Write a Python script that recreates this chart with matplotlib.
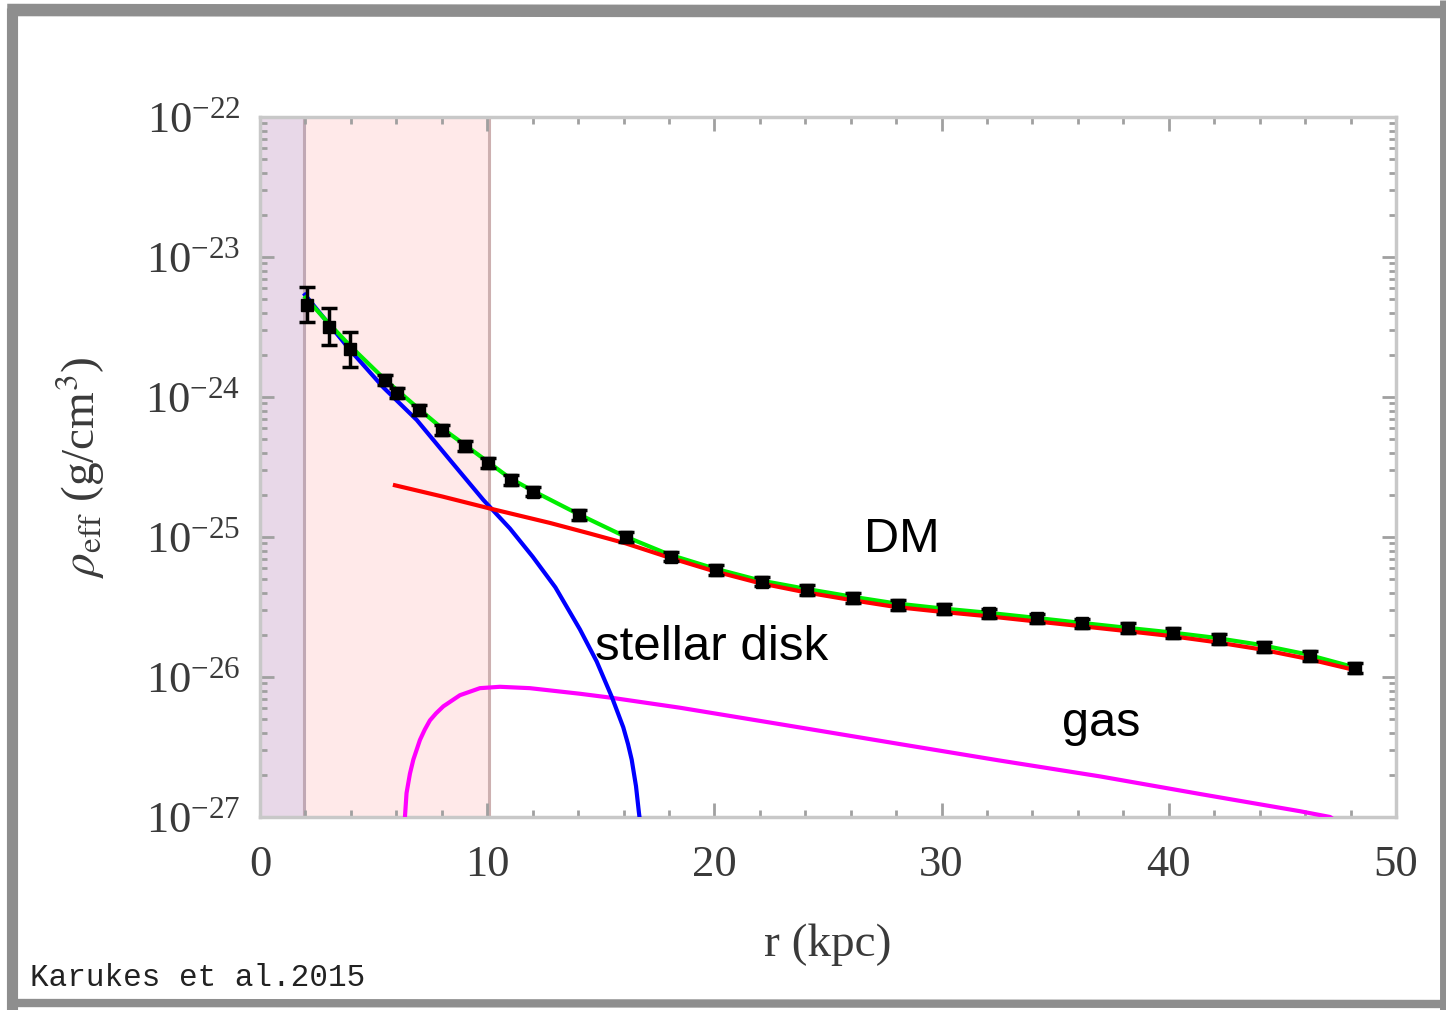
import matplotlib
matplotlib.use('Agg')
import matplotlib.pyplot as plt
from matplotlib.lines import Line2D
from matplotlib.ticker import LogLocator, MultipleLocator, NullFormatter, LogFormatterMathtext

plt.rcParams['font.family'] = ['Liberation Serif', 'DejaVu Serif']
plt.rcParams['mathtext.fontset'] = 'stix'

# Dados (r em kpc, densidade em g/cm^3)
r_data = [2.07, 3.04, 3.96, 5.5, 6.02, 7.01, 8.02, 9.02, 10.02, 11.05, 12.03, 14.05,
          16.1, 18.07, 20.06, 22.08, 24.06, 26.1, 28.1, 30.1, 32.1, 34.2, 36.2,
          38.2, 40.2, 42.2, 44.2, 46.2, 48.2]
rho_data = [4.54e-24, 3.16e-24, 2.2e-24, 1.32e-24, 1.07e-24, 8.07e-25, 5.81e-25, 4.49e-25,
            3.36e-25, 2.55e-25, 2.11e-25, 1.44e-25, 1.0e-25, 7.24e-26, 5.81e-26, 4.8e-26,
            4.18e-26, 3.65e-26, 3.27e-26, 3.05e-26, 2.85e-26, 2.62e-26, 2.41e-26,
            2.23e-26, 2.07e-26, 1.87e-26, 1.65e-26, 1.42e-26, 1.15e-26]
rho_err_lo = [1.1e-24, 0.81e-24, 0.56e-24, 0.1e-24, 0.08e-24, 0.6e-25, 0.45e-25, 0.35e-25,
              0.26e-25, 0.2e-25, 0.16e-25, 0.11e-25, 0.08e-25, 0.55e-26, 0.45e-26, 0.37e-26,
              0.32e-26, 0.28e-26, 0.25e-26, 0.23e-26, 0.22e-26, 0.2e-26, 0.18e-26,
              0.17e-26, 0.16e-26, 0.14e-26, 0.13e-26, 0.11e-26, 0.09e-26]
rho_err_hi = [1.56e-24, 1.17e-24, 0.71e-24, 0.11e-24, 0.09e-24, 0.65e-25, 0.48e-25, 0.37e-25,
              0.28e-25, 0.21e-25, 0.17e-25, 0.12e-25, 0.08e-25, 0.6e-26, 0.48e-26, 0.4e-26,
              0.34e-26, 0.3e-26, 0.27e-26, 0.25e-26, 0.23e-26, 0.21e-26, 0.2e-26,
              0.18e-26, 0.17e-26, 0.15e-26, 0.14e-26, 0.12e-26, 0.1e-26]

r_disk = [1.98, 3.96, 5.43, 6.9, 8.36, 9.83, 11.0, 12.0, 13.0, 14.08, 14.82, 15.48,
          15.99, 16.2, 16.36, 16.55, 16.68, 16.8]
rho_disk = [5.37e-24, 2.17e-24, 1.17e-24, 6.85e-25, 3.55e-25, 1.84e-25, 1.15e-25, 7.24e-26,
            4.37e-26, 2.19e-26, 1.29e-26, 7.24e-27, 4.37e-27, 3.31e-27, 2.57e-27, 1.66e-27,
            1.07e-27, 7.5e-28]

r_dm = [5.94, 8.0, 10.1, 12.76, 14.5, 16.1, 18.07, 20, 22, 24, 26, 28, 30, 32, 34, 36,
        38, 40, 42, 44, 46, 48.2]
rho_dm = [2.34e-25, 1.95e-25, 1.6e-25, 1.26e-25, 1.06e-25, 9.0e-26, 7.08e-26, 5.69e-26,
          4.68e-26, 4.03e-26, 3.55e-26, 3.16e-26, 2.92e-26, 2.72e-26, 2.51e-26, 2.32e-26,
          2.14e-26, 1.97e-26, 1.78e-26, 1.58e-26, 1.36e-26, 1.12e-26]

r_total = [2.0, 3.0, 4.0, 5.5, 7.0, 8.0, 9.0, 10.0, 11.0, 12.0, 14.0, 16.0, 18.0, 20, 22,
           24, 26, 28, 30, 32, 34, 36, 38, 40, 42, 44, 46, 48.2]
rho_total = [5.13e-24, 3.39e-24, 2.29e-24, 1.33e-24, 8.2e-25, 6.0e-25, 4.57e-25, 3.47e-25,
             2.63e-25, 2.14e-25, 1.46e-25, 1.02e-25, 7.5e-26, 5.96e-26, 4.9e-26, 4.27e-26,
             3.76e-26, 3.35e-26, 3.09e-26, 2.88e-26, 2.66e-26, 2.45e-26, 2.26e-26,
             2.09e-26, 1.91e-26, 1.70e-26, 1.46e-26, 1.17e-26]

r_gas = [6.36, 6.38, 6.45, 6.6, 6.75, 7.04, 7.25, 7.48, 7.75, 8.07, 8.8, 9.68, 10.56,
         11.88, 14.08, 15.54, 18.49, 23.0, 28.2, 32.5, 36.97, 41.37, 45.77, 47.1, 47.5]
rho_gas = [9.0e-28, 1.0e-27, 1.48e-27, 2.04e-27, 2.57e-27, 3.55e-27, 4.2e-27, 4.9e-27,
           5.5e-27, 6.17e-27, 7.41e-27, 8.32e-27, 8.51e-27, 8.32e-27, 7.59e-27, 7.08e-27,
           6.03e-27, 4.57e-27, 3.31e-27, 2.54e-27, 1.95e-27, 1.46e-27, 1.10e-27, 1.0e-27,
           9.0e-28]

# Regiões sombreadas (kpc)
inner_zone = (0, 1.95)
disk_zone = (1.95, 10.1)

fig = plt.figure(figsize=(14.46, 10.10), dpi=100)
ax = fig.add_axes([0.1798, 0.1911, 0.7856, 0.6931])

ax.axvspan(*inner_zone, color='#e8d8e8', zorder=0, lw=0)
ax.axvspan(*disk_zone, color='#ffe9e9', zorder=0, lw=0)
ax.axvline(inner_zone[1], color='#c0a8b4', lw=2.2, zorder=1)
ax.axvline(disk_zone[1], color='#cdb0b0', lw=2.2, zorder=1)

ax.plot(r_gas, rho_gas, color='#ff00ff', lw=3, zorder=3)
ax.plot(r_disk, rho_disk, color='#0000ff', lw=3, zorder=4)
ax.plot(r_total, rho_total, color='#00ee00', lw=3, zorder=5)
ax.plot(r_dm, rho_dm, color='#ff0000', lw=3, zorder=6)
ax.errorbar(r_data, rho_data, yerr=[rho_err_lo, rho_err_hi], fmt='s', color='black',
            ms=8, elinewidth=2.5, capsize=6, capthick=2.5, zorder=7)

ax.set_yscale('log')
ax.set_xlim(0, 50)
ax.set_ylim(1e-27, 1e-22)

ax.xaxis.set_major_locator(MultipleLocator(10))
ax.xaxis.set_minor_locator(MultipleLocator(2))
ax.yaxis.set_major_locator(LogLocator(base=10, numticks=10))
ax.yaxis.set_major_formatter(LogFormatterMathtext())
ax.yaxis.set_minor_locator(LogLocator(base=10, subs=range(2, 10), numticks=10))
ax.yaxis.set_minor_formatter(NullFormatter())

for s in ax.spines.values():
    s.set_color('#c8c8c8')
    s.set_linewidth(2.5)
ax.tick_params(which='both', direction='in', top=True, right=True, color='#a0a0a0',
               labelcolor='#3a3a3a')
ax.tick_params(which='major', length=10, width=2)
ax.tick_params(which='minor', length=5, width=2)
ax.tick_params(axis='x', labelsize=32, pad=20)
ax.tick_params(axis='y', labelsize=32, pad=14)

ax.set_xlabel('r (kpc)', fontsize=34, color='#3a3a3a', va='top')
ax.xaxis.set_label_coords(0.5, -0.152)
ax.set_ylabel(r'$\rho_{\rm eff}$ (g/cm$^3$)', fontsize=34, color='#3a3a3a')
ax.yaxis.set_label_coords(-0.135, 0.5)

# Rótulos das componentes
sans = ['Liberation Sans', 'DejaVu Sans']
ax.text(26.6, 7.8e-26, 'DM', fontsize=35, family=sans, color='black')
ax.text(14.75, 1.32e-26, 'stellar disk', fontsize=35.5, family=sans, color='black')
ax.text(35.3, 3.8e-27, 'gas', fontsize=35, family=sans, color='black')

fig.text(30 / 1446, 1 - 986 / 1010, 'Karukes et al.2015', fontsize=22.3,
         family=['Liberation Mono', 'DejaVu Sans Mono'], color='#222222')

# Moldura cinza estilo "esboço"
frame = dict(color='#8e8e8e', solid_capstyle='butt', transform=fig.transFigure)
fig.add_artist(Line2D([0.005, 1.0], [1 - 10 / 1010, 1 - 12 / 1010], lw=9, **frame))
fig.add_artist(Line2D([12 / 1446, 12 / 1446], [0.0, 1 - 8 / 1010], lw=8, **frame))
fig.add_artist(Line2D([0.005, 1.0], [7 / 1010, 6 / 1010], lw=6, **frame))
fig.add_artist(Line2D([1 - 3 / 1446, 1 - 3 / 1446], [0.0, 1.0], lw=5, **frame))

fig.savefig('out.png', dpi=100, facecolor='white')
